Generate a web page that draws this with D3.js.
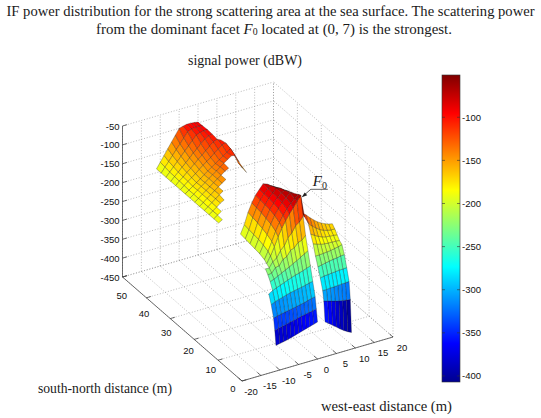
<!DOCTYPE html>
<html>
<head>
<meta charset="utf-8">
<script src="https://cdn.jsdelivr.net/npm/d3@7/dist/d3.min.js"></script>
<style>
  body { margin: 0; background: #fff; }
  .tick text { font-family: "Liberation Sans", Arial, sans-serif; font-size: 9.5px; fill: #111; }
  .serif { font-family: "Liberation Serif", "Times New Roman", serif; fill: #1a1a1a; }
</style>
</head>
<body>
<svg id="chart" width="541" height="418"></svg>
<script>
// grid columns: west-east distance (m)
const xCols = [-11, -10, -9, -8, -7, -6, -5, -4, -3, -2, -1, 0, 1, 2, 3, 4, 5, 6, 7, 8, 9];
const N = null;

// near part (around F0), south-north rows (m)
const yNear = [0, 0.5, 1, 2, 3, 4, 5, 6, 7, 8, 10, 12, 14, 16, 18];
// signal power (dBW), one row per yNear, one value per xCols
const powerNear = [
  [-382,-380,-378,-376,-373,-370,-367,-364,-361,-358,-355,-352, N,-357,-365,-372,-380,-388,-395,-401,-406],
  [-345,-342,-340,-338,-335,-333,-330,-328,-326,-324,-322,-320, N,-305,-308,-311,-314,-316,-318,-320,-321],
  [-315,-312,-310,-308,-306,-304,-302,-300,-298,-295,-292,-290, N,-280,-280,-279,-279,-278,-277,-277,-276],
  [-285,-280,-277,-274,-271,-268,-266,-264,-262,-260,-257,-255, N,-252,-250,-249,-248,-247,-246,-246,-245],
  [-262,-256,-252,-248,-244,-240,-236,-233,-230,-227,-223,-220, N,-228,-226,-224,-222,-220,-219,-217,-216],
  [   N,-238,-234,-229,-224,-219,-214,-208,-203,-197,-191,-185, N,-205,-205,-204,-203,-202,-200,-198,-195],
  [   N,-225,-224,-212,-210,-196,-192,-178,-174,-163,-160,-150, N,-178,-182,-185,-187,-188,-188,-189,-190],
  [   N,-215,-216,-202,-194,-178,-168,-150,-140,-124,-117,-105, N,-158,-164,-170,-174,-177,-178,-179,-180],
  [   N,   N,-210,-192,-170,-147,-127,-110, -95, -82, -68, -55,-115,-135,-145,-153,-160,-165,-168,-170,-170],
  [   N,   N,-205,-185,-162,-138,-118,-102, -88, -76, -66, -58,-110,-118,-128,-137,-145,-151,-156,-160,-162],
  [   N,   N,-200,-180,-155,-130,-110, -95, -82, -72, -62, -66,   N,   N,   N,   N,   N,   N,   N,   N,   N],
  [   N,   N,-198,-176,-150,-126,-106, -92, -80, -70, -66, -72,   N,   N,   N,   N,   N,   N,   N,   N,   N],
  [   N,   N,-196,-174,-146,-122,-104, -90, -79, -68, -72, -80,   N,   N,   N,   N,   N,   N,   N,   N,   N],
  [   N,   N,-194,-172,-143,-120,-102, -89, -78, -74, -80, -90,   N,   N,   N,   N,   N,   N,   N,   N,   N],
  [   N,   N,-192,-170,-140,-118,-100, -88, -76, -80, -88,-100,   N,   N,   N,   N,   N,   N,   N,   N,   N]
];

// far part (north-west ridge), south-north rows (m)
const yFar = [24, 26, 28, 30, 32, 34, 36, 38, 40, 42, 44, 46, 48, 50];
const powerFar = [
  [-190,-184,   N,   N,   N,   N,   N,   N,   N,   N,   N,   N,   N,   N,   N,   N, N, N, N, N, N],
  [-190,-183,-176,   N,   N,   N,   N,   N,   N,   N,   N,   N,   N,   N,   N,   N, N, N, N, N, N],
  [-190,-183,-176,-168,-163,   N,   N,   N,   N,   N,   N,   N,   N,   N,   N,   N, N, N, N, N, N],
  [-190,-183,-175,-168,-160,-153,   N,   N,   N,   N,   N,   N,   N,   N,   N,   N, N, N, N, N, N],
  [-190,-183,-175,-168,-160,-153,-146,-139,   N,   N,   N,   N,   N,   N,   N,   N, N, N, N, N, N],
  [-190,-183,-175,-168,-161,-153,-146,-139,-131,-126,   N,   N,   N,   N,   N,   N, N, N, N, N, N],
  [-190,-183,-175,-168,-161,-153,-146,-139,-131,-124,-117,-110,-112,-132,-152,-166, N, N, N, N, N],
  [-190,-183,-176,-169,-162,-154,-147,-140,-133,-126,-119,-112,-105,-125,-148,-160, N, N, N, N, N],
  [-190,-182,-174,-167,-159,-151,-143,-136,-128,-120,-112,-104,-101,-122,   N,   N, N, N, N, N, N],
  [-190,-181,-173,-164,-156,-147,-138,-130,-121,-112,-104, -99,-104,   N,   N,   N, N, N, N, N, N],
  [-190,-180,-171,-161,-152,-142,-132,-123,-113,-104, -99, -97,   N,   N,   N,   N, N, N, N, N, N],
  [-190,-179,-168,-157,-146,-135,-124,-113,-102, -98, -96, -96,   N,   N,   N,   N, N, N, N, N, N],
  [-190,-177,-165,-152,-139,-127,-114,-101, -97, -95, -95, -97,   N,   N,   N,   N, N, N, N, N, N],
  [-190,-175,-160,-145,-130,-115,-100, -97, -95, -95, -96, -98,   N,   N,   N,   N, N, N, N, N, N]
];

const xTicks = [-20, -15, -10, -5, 0, 5, 10, 15, 20];
const yTicks = [0, 10, 20, 30, 40, 50];
const zTicks = [-450, -400, -350, -300, -250, -200, -150, -100, -50];
const cbTicks = [-400, -350, -300, -250, -200, -150, -100];
const colorLimits = [-407, -51];
const facetF0 = [0, 7, -55];

const svg = d3.select("#chart");

// 3D axes: each data axis is scaled to 0..1 then projected with fixed screen vectors
const xS = d3.scaleLinear().domain([-20, 20]).range([0, 1]);
const yS = d3.scaleLinear().domain([0, 50]).range([0, 1]);
const zS = d3.scaleLinear().domain([-450, -50]).range([0, 1]);
const origin = [242, 381];
const ex = [151, -44], ey = [-119.5, -104], ez = [0, -151];
// direction towards the viewer in the scaled box
const view = [-1, -1.2636, 1.1616];

function proj(x, y, z) {
  const u = xS(x), v = yS(y), w = zS(z);
  return [origin[0] + u * ex[0] + v * ey[0] + w * ez[0],
          origin[1] + u * ex[1] + v * ey[1] + w * ez[1]];
}
function depth(x, y, z) {
  return xS(x) * view[0] + yS(y) * view[1] + zS(z) * view[2];
}

// jet colormap
const jet = d3.scaleLinear()
  .domain([0, 0.125, 0.375, 0.625, 0.875, 1])
  .range(["#00008f", "#0000ff", "#00ffff", "#ffff00", "#ff0000", "#800000"])
  .clamp(true);
const cS = d3.scaleLinear().domain(colorLimits).range([0, 1]).clamp(true);
const color = v => jet(cS(v));

// grid
const grid = svg.append("g")
  .attr("fill", "none")
  .attr("stroke", "#8c8c8c")
  .attr("stroke-width", 0.6)
  .attr("stroke-dasharray", "1,1.8");
const segs = [];
xTicks.forEach(x => {
  segs.push([[x, 0, -450], [x, 50, -450]]);
  segs.push([[x, 50, -450], [x, 50, -50]]);
});
yTicks.forEach(y => {
  segs.push([[-20, y, -450], [20, y, -450]]);
  segs.push([[20, y, -450], [20, y, -50]]);
});
zTicks.forEach(z => {
  segs.push([[-20, 50, z], [20, 50, z]]);
  segs.push([[20, 0, z], [20, 50, z]]);
});
grid.selectAll("line").data(segs).enter().append("line")
  .attr("x1", d => proj(...d[0])[0]).attr("y1", d => proj(...d[0])[1])
  .attr("x2", d => proj(...d[1])[0]).attr("y2", d => proj(...d[1])[1]);

// axis lines
const axes = svg.append("g").attr("stroke", "#333").attr("stroke-width", 0.7).attr("fill", "none");
[[[-20, 50, -450], [-20, 50, -50]],
 [[-20, 0, -450], [-20, 50, -450]],
 [[-20, 0, -450], [20, 0, -450]]].forEach(d => {
  axes.append("line")
    .attr("x1", proj(...d[0])[0]).attr("y1", proj(...d[0])[1])
    .attr("x2", proj(...d[1])[0]).attr("y2", proj(...d[1])[1]);
});
zTicks.forEach(z => {
  const a = proj(-20, 50, z), b = proj(-18.8, 50, z);
  axes.append("line").attr("x1", a[0]).attr("y1", a[1]).attr("x2", b[0]).attr("y2", b[1]);
});
yTicks.forEach(y => {
  const a = proj(-20, y, -450), b = proj(-18.8, y, -450);
  axes.append("line").attr("x1", a[0]).attr("y1", a[1]).attr("x2", b[0]).attr("y2", b[1]);
});
xTicks.forEach(x => {
  const a = proj(x, 0, -450), b = proj(x, 1.5, -450);
  axes.append("line").attr("x1", a[0]).attr("y1", a[1]).attr("x2", b[0]).attr("y2", b[1]);
});

// tick labels
const labels = svg.append("g").attr("class", "tick");
zTicks.forEach(z => {
  const p = proj(-20, 50, z);
  labels.append("text").attr("x", p[0] - 3).attr("y", p[1] + 3.5)
    .attr("text-anchor", "end").text(z);
});
const yLabDx = d3.scaleLinear().domain([0, 50]).range([-9, -0.8]);
const yLabDy = d3.scaleLinear().domain([0, 50]).range([7.3, 18]);
yTicks.forEach(y => {
  const p = proj(-20, y, -450);
  labels.append("text").attr("x", p[0] + yLabDx(y)).attr("y", p[1] + yLabDy(y) + 3.5)
    .attr("text-anchor", "middle").text(y);
});
xTicks.forEach(x => {
  const p = proj(x, 0, -450);
  labels.append("text").attr("x", p[0] + 9).attr("y", p[1] + 13.5)
    .attr("text-anchor", "middle").text(x);
});

// surface facets
const faces = [];
function addFaces(ys, zs) {
  for (let i = 0; i < ys.length - 1; i++) {
    for (let j = 0; j < xCols.length - 1; j++) {
      const c = [[i, j], [i, j + 1], [i + 1, j + 1], [i + 1, j]];
      if (c.some(([r, k]) => zs[r][k] === null)) continue;
      const pts = c.map(([r, k]) => [xCols[k], ys[r], zs[r][k]]);
      faces.push({
        pts: pts.map(p => proj(...p)),
        d: d3.mean(pts, p => depth(...p)),
        v: zs[i][j]
      });
    }
  }
}
addFaces(yNear, powerNear);
addFaces(yFar, powerFar);
faces.sort((a, b) => a.d - b.d);

svg.append("g").selectAll("path").data(faces).enter().append("path")
  .attr("d", f => "M" + f.pts.map(p => p.join(",")).join("L") + "Z")
  .attr("fill", f => color(f.v))
  .attr("stroke", "#1a1a1a")
  .attr("stroke-width", 0.35)
  .attr("stroke-opacity", 0.85)
  .attr("stroke-linejoin", "round");

// F0 annotation
const fp = proj(...facetF0);
const ann = svg.append("g");
ann.append("path")
  .attr("d", `M${fp[0] + 27},${fp[1] - 6}L${fp[0] + 10},${fp[1] - 6}L${fp[0] + 2},${fp[1] + 1}`)
  .attr("fill", "none").attr("stroke", "#222").attr("stroke-width", 0.7);
ann.append("path")
  .attr("d", `M${fp[0] + 1},${fp[1] + 2}l5.5,-2.2l-2.6,-2.6Z`)
  .attr("fill", "#222");
const ft = ann.append("text").attr("class", "serif")
  .attr("x", fp[0] + 12).attr("y", fp[1] - 9).style("font-size", "15px");
ft.append("tspan").style("font-style", "italic").text("F");
ft.append("tspan").attr("dy", 3).style("font-size", "10px").text("0");

// colorbar
const cbY = d3.scaleLinear().domain(colorLimits).range([382, 75]);
const grad = svg.append("defs").append("linearGradient")
  .attr("id", "jetgrad").attr("x1", 0).attr("y1", 1).attr("x2", 0).attr("y2", 0);
d3.range(0, 1.0001, 0.0625).forEach(t => {
  grad.append("stop").attr("offset", t).attr("stop-color", jet(t));
});
svg.append("rect")
  .attr("x", 442).attr("y", cbY(colorLimits[1]))
  .attr("width", 18).attr("height", cbY(colorLimits[0]) - cbY(colorLimits[1]))
  .attr("fill", "url(#jetgrad)").attr("stroke", "#333").attr("stroke-width", 0.6);
const cb = svg.append("g").attr("class", "tick");
cbTicks.forEach(v => {
  cb.append("line").attr("x1", 442).attr("x2", 445).attr("y1", cbY(v)).attr("y2", cbY(v))
    .attr("stroke", "#333").attr("stroke-width", 0.6);
  cb.append("line").attr("x1", 457).attr("x2", 460).attr("y1", cbY(v)).attr("y2", cbY(v))
    .attr("stroke", "#333").attr("stroke-width", 0.6);
  cb.append("text").attr("x", 462).attr("y", cbY(v) + 3.5).text(v);
});

// titles
svg.append("text").attr("class", "serif")
  .attr("x", 270.5).attr("y", 16).attr("text-anchor", "middle")
  .attr("textLength", 528).attr("lengthAdjust", "spacingAndGlyphs")
  .style("font-size", "14.5px")
  .text("IF power distribution for the strong scattering area at the sea surface. The scattering power");
const t2 = svg.append("text").attr("class", "serif")
  .attr("x", 274).attr("y", 33.5).attr("text-anchor", "middle")
  .attr("textLength", 356).attr("lengthAdjust", "spacingAndGlyphs")
  .style("font-size", "14.5px");
t2.append("tspan").text("from the dominant facet ");
t2.append("tspan").style("font-style", "italic").text("F");
t2.append("tspan").style("font-size", "9.5px").attr("dy", 1).text("0");
t2.append("tspan").attr("dy", -1).text(" located at (0, 7) is the strongest.");

svg.append("text").attr("class", "serif")
  .attr("x", 245).attr("y", 65).attr("text-anchor", "middle")
  .attr("textLength", 114).attr("lengthAdjust", "spacingAndGlyphs")
  .style("font-size", "14px").text("signal power (dBW)");
svg.append("text").attr("class", "serif")
  .attr("x", 38).attr("y", 393)
  .attr("textLength", 134).attr("lengthAdjust", "spacingAndGlyphs")
  .style("font-size", "14px").text("south-north distance (m)");
svg.append("text").attr("class", "serif")
  .attr("x", 321).attr("y", 411)
  .attr("textLength", 131).attr("lengthAdjust", "spacingAndGlyphs")
  .style("font-size", "14px").text("west-east distance (m)");
</script>
</body>
</html>
